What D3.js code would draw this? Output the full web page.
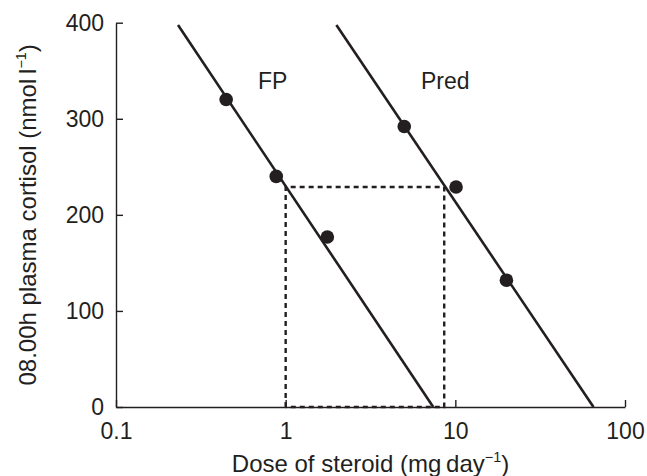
<!DOCTYPE html>
<html>
<head>
<meta charset="utf-8">
<script src="https://cdn.jsdelivr.net/npm/d3@7"></script>
<style>
  html, body { margin: 0; padding: 0; background: #fff; }
  svg { display: block; }
  text { font-family: "Liberation Sans", Arial, Helvetica, sans-serif; fill: #231f20; }
</style>
</head>
<body>
<svg id="chart" width="647" height="476"></svg>
<script>
// ---- data ----
const seriesNames = ["FP", "Pred"];
const fpDose = [0.446, 0.88, 1.76];
const fpCortisol = [320, 240, 177];
const predDose = [5.0, 10.1, 20.0];
const predCortisol = [292, 229, 132];
// fitted regression lines (end points)
const fpLineDose = [0.232, 7.41];
const fpLineCortisol = [397.6, 0];
const predLineDose = [1.99, 65.2];
const predLineCortisol = [397.6, 0];
// dashed equivalence box
const boxDose = [1, 8.6];
const boxCortisol = [0, 229];
// axes
const xTicks = [0.1, 1, 10, 100];
const xTickLabels = ["0.1", "1", "10", "100"];
const yTicks = [0, 100, 200, 300, 400];

const svg = d3.select("#chart");
const ink = "#231f20";
const fontSize = 23;
const titleSize = 24;

const x = d3.scaleLog().domain([0.1, 100]).range([116, 625]);
const y = d3.scaleLinear().domain([0, 400]).range([407, 22.7]);

// x axis
const xAxis = d3.axisBottom(x)
  .tickValues(xTicks)
  .tickFormat((d, i) => xTickLabels[i])
  .tickSizeInner(-7)
  .tickSizeOuter(0)
  .tickPadding(16);
const gx = svg.append("g").attr("transform", `translate(0,${y(0)})`).call(xAxis);

// y axis
const yAxis = d3.axisLeft(y)
  .tickValues(yTicks)
  .tickFormat(d3.format("d"))
  .tickSizeInner(-7)
  .tickSizeOuter(0)
  .tickPadding(12);
const gy = svg.append("g").attr("transform", `translate(${x(0.1)},0)`).call(yAxis);

[gx, gy].forEach(g => {
  g.select(".domain").attr("stroke", ink).attr("stroke-width", 1.4);
  g.selectAll(".tick line").attr("stroke", ink).attr("stroke-width", 1.4);
  g.selectAll(".tick text")
    .attr("font-family", '"Liberation Sans", Arial, sans-serif')
    .attr("font-size", fontSize)
    .attr("fill", ink);
});

// dashed box
const boxPts = [
  [boxDose[0], boxCortisol[0]],
  [boxDose[0], boxCortisol[1]],
  [boxDose[1], boxCortisol[1]],
  [boxDose[1], boxCortisol[0]],
  [boxDose[0], boxCortisol[0]]
];
svg.append("path")
  .attr("d", d3.line().x(d => x(d[0])).y(d => y(d[1]))(boxPts))
  .attr("fill", "none")
  .attr("stroke", ink)
  .attr("stroke-width", 2.4)
  .attr("stroke-dasharray", "5,4");

// regression lines
const lineGen = d3.line().x(d => x(d[0])).y(d => y(d[1]));
[[fpLineDose, fpLineCortisol], [predLineDose, predLineCortisol]].forEach(([xs, ys]) => {
  svg.append("path")
    .attr("d", lineGen(xs.map((v, i) => [v, ys[i]])))
    .attr("fill", "none")
    .attr("stroke", ink)
    .attr("stroke-width", 2.6);
});

// points
[[fpDose, fpCortisol], [predDose, predCortisol]].forEach(([xs, ys]) => {
  svg.append("g").selectAll("circle")
    .data(xs.map((v, i) => [v, ys[i]]))
    .join("circle")
    .attr("cx", d => x(d[0]))
    .attr("cy", d => y(d[1]))
    .attr("r", 6.8)
    .attr("fill", ink);
});

// series labels
svg.append("text").attr("x", 258).attr("y", 89).attr("font-size", fontSize).text(seriesNames[0]);
svg.append("text").attr("x", 421).attr("y", 89).attr("font-size", fontSize).text(seriesNames[1]);

// x title
const xt = svg.append("text")
  .attr("x", (x(0.1) + x(100)) / 2)
  .attr("y", 472)
  .attr("text-anchor", "middle")
  .attr("font-size", titleSize);
xt.append("tspan").text("Dose of steroid (mg\u2009day");
xt.append("tspan").attr("font-size", titleSize * 0.6).attr("dy", -10).text("\u22121");
xt.append("tspan").attr("dy", 10).text(")");

// y title
const yt = svg.append("text")
  .attr("transform", `translate(36,${(y(0) + y(400)) / 2}) rotate(-90)`)
  .attr("text-anchor", "middle")
  .attr("font-size", titleSize);
yt.append("tspan").text("08.00h plasma cortisol (nmol\u2009l");
yt.append("tspan").attr("font-size", titleSize * 0.6).attr("dy", -10).text("\u22121");
yt.append("tspan").attr("dy", 10).text(")");
</script>
</body>
</html>
